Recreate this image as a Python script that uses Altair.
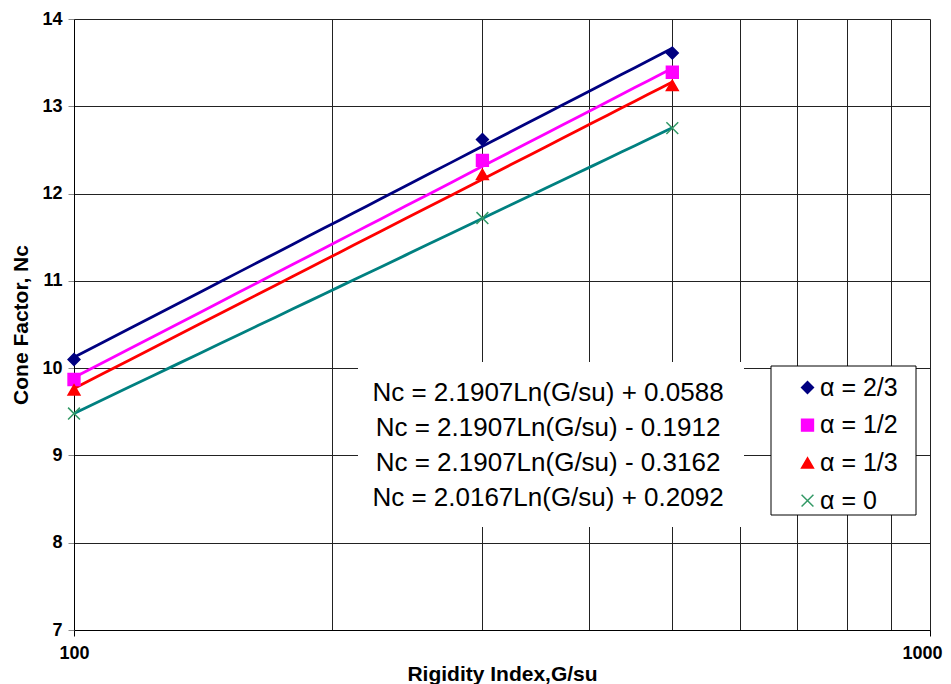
import altair as alt
import pandas as pd

# ---- data ----
G_SU = [100, 300, 500]
NC_ALPHA_2_3 = [10.10, 12.62, 13.61]
NC_ALPHA_1_2 = [9.87, 12.38, 13.39]
NC_ALPHA_1_3 = [9.75, 12.22, 13.24]
NC_ALPHA_0 = [9.48, 11.72, 12.75]

SERIES = ["α = 2/3", "α = 1/2", "α = 1/3", "α = 0"]
LINE_COLORS = ["#000080", "#FF00FF", "#FF0000", "#008080"]
MARKER_COLORS = ["#000080", "#FF00FF", "#FF0000", "#339966"]
SHAPES = ["diamond", "square", "triangle-up", "M-1,-1L1,1M-1,1L1,-1"]

EQUATIONS = [
    "Nc = 2.1907Ln(G/su) + 0.0588",
    "Nc = 2.1907Ln(G/su) - 0.1912",
    "Nc = 2.1907Ln(G/su) - 0.3162",
    "Nc = 2.0167Ln(G/su) + 0.2092",
]

X_GRID = [100, 200, 300, 400, 500, 600, 700, 800, 900, 1000]
Y_TICKS = [7, 8, 9, 10, 11, 12, 13, 14]

rows = []
for name, vals in zip(SERIES, [NC_ALPHA_2_3, NC_ALPHA_1_2, NC_ALPHA_1_3, NC_ALPHA_0]):
    for g, v in zip(G_SU, vals):
        rows.append({"series": name, "G": g, "Nc": v})
df = pd.DataFrame(rows)

FONT = "Liberation Sans"

x_enc = alt.X(
    "G:Q",
    scale=alt.Scale(type="log", domain=[100, 1000], nice=False),
    axis=alt.Axis(
        values=X_GRID,
        format="d",
        labelExpr="datum.value == 100 || datum.value == 1000 ? datum.label : ''",
        tickColor={"condition": {"test": "datum.value == 100 || datum.value == 1000", "value": "black"},
                   "value": "transparent"},
        labelOffset={"condition": {"test": "datum.value == 1000", "value": -8}, "value": 0},
        tickSize=6,
        labelPadding=8,
        labelFlush=False,
        labelOverlap=False,
        title="Rigidity Index,G/su",
        titlePadding=1,
        zindex=0,
    ),
)
y_enc = alt.Y(
    "Nc:Q",
    scale=alt.Scale(domain=[7, 14], nice=False, zero=False),
    axis=alt.Axis(
        values=Y_TICKS,
        tickSize=6,
        labelPadding=6,
        title="Cone Factor, Nc",
        titlePadding=10,
        zindex=0,
    ),
)

legend = alt.Legend(title=None, orient="none", legendX=721, legendY=356, zindex=5)

# line colours: same pairs, listed in reverse order so this (legend-less) scale
# is kept apart from the marker legend
lines = (
    alt.Chart(df)
    .transform_regression("G", "Nc", method="log", groupby=["series"])
    .mark_line(strokeWidth=2.8)
    .encode(
        x=x_enc,
        y=y_enc,
        color=alt.Color("series:N", scale=alt.Scale(domain=SERIES[::-1], range=LINE_COLORS[::-1]),
                        legend=None),
    )
)

points = (
    alt.Chart(df)
    .mark_point(filled=True, strokeWidth=1.5, opacity=1, size=140)
    .encode(
        x=x_enc,
        y=y_enc,
        fill=alt.Fill("series:N", scale=alt.Scale(domain=SERIES, range=MARKER_COLORS), legend=legend),
        stroke=alt.Stroke("series:N", scale=alt.Scale(domain=SERIES, range=MARKER_COLORS), legend=legend),
        shape=alt.Shape("series:N", scale=alt.Scale(domain=SERIES, range=SHAPES), legend=legend),
    )
)

one = alt.Data(values=[{}])

eq_box = alt.Chart(one).mark_rect(fill="white").encode(
    x=alt.value(284), x2=alt.value(670), y=alt.value(343), y2=alt.value(508)
)
legend_box = alt.Chart(one).mark_rect(fill="white", stroke="black", strokeWidth=1).encode(
    x=alt.value(697), x2=alt.value(842), y=alt.value(347), y2=alt.value(496)
)
eq_text = alt.Chart(one).mark_text(
    text=EQUATIONS, lineHeight=35, font=FONT, fontSize=26, align="center",
    baseline="middle", color="black",
).encode(x=alt.value(474), y=alt.value(374))

chart = (
    alt.layer(eq_box, legend_box, lines, points, eq_text)
    .properties(
        width=856, height=611, autosize="none",
        padding={"left": 66, "top": 11, "right": 13, "bottom": 54},
        background="white",
    )
    .configure_view(stroke=None)
    .configure_axis(
        labelFont=FONT, labelFontSize=18, labelFontWeight="bold", labelColor="black",
        titleFont=FONT, titleFontSize=21, titleFontWeight="bold", titleColor="black",
        domainColor="black", domainWidth=1, tickWidth=1,
        gridColor="#222222", gridWidth=1, gridOpacity=1,
    )
    .configure_legend(
        padding=0, labelFont=FONT, labelFontSize=25, labelColor="black",
        rowPadding=11.7, labelOffset=0, symbolSize=140, symbolStrokeWidth=1.5,
    )
)

chart.save("out.html", embed_options={"renderer": "svg", "actions": False})
